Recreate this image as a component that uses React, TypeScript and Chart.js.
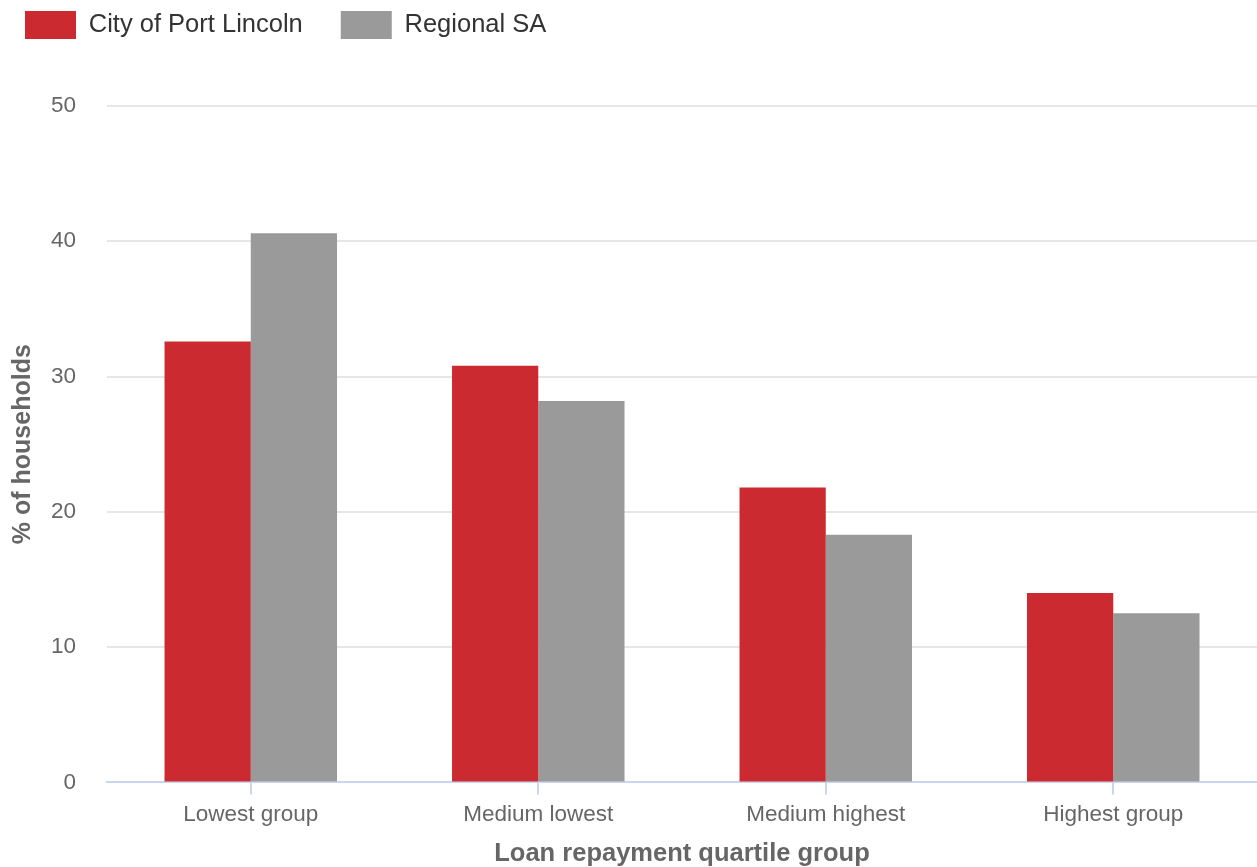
import React, { useEffect, useRef } from "react";
import { Chart, registerables } from "chart.js";

Chart.register(...registerables);

const categories = ["Lowest group", "Medium lowest", "Medium highest", "Highest group"];
const portLincoln = [32.6, 30.8, 21.8, 14.0];
const regionalSA = [40.6, 28.2, 18.3, 12.5];
const seriesNames = ["City of Port Lincoln", "Regional SA"];
const yTicks = [0, 10, 20, 30, 40, 50];

const FONT = "'Liberation Sans', Arial, sans-serif";
const LEGEND_PAD = 38;

const legendShift = {
  id: "legendShift",
  beforeDraw(chart: any) {
    const l = chart.legend;
    if (l) {
      l.top = 11 - LEGEND_PAD;
      l.left = 25 - LEGEND_PAD;
    }
  },
};

export default function App() {
  const ref = useRef<HTMLCanvasElement | null>(null);

  useEffect(() => {
    document.body.style.margin = "0";
    const ctx = ref.current!;
    const chart = new Chart(ctx, {
      type: "bar",
      data: {
        labels: categories,
        datasets: [
          {
            label: seriesNames[0],
            data: portLincoln,
            backgroundColor: "#cb2b30",
            categoryPercentage: 0.6,
            barPercentage: 1,
          },
          {
            label: seriesNames[1],
            data: regionalSA,
            backgroundColor: "#9a9a9a",
            categoryPercentage: 0.6,
            barPercentage: 1,
          },
        ],
      },
      options: {
        animation: false,
        responsive: false,
        maintainAspectRatio: false,
        layout: { padding: { left: 8, right: 0, top: 30, bottom: -2 } },
        plugins: {
          tooltip: { enabled: false },
          legend: {
            position: "top",
            align: "start",
            labels: {
              boxWidth: 51,
              boxHeight: 28,
              padding: LEGEND_PAD,
              color: "#333333",
              font: { family: FONT, size: 25.5 },
            },
          },
        },
        scales: {
          x: {
            grid: {
              display: true,
              drawOnChartArea: false,
              drawTicks: true,
              tickLength: 12,
              offset: false,
              color: "#ccd6eb",
              lineWidth: 2,
            },
            border: { display: true, color: "#ccd6eb", width: 2 },
            ticks: {
              color: "#666666",
              font: { family: FONT, size: 22.5 },
              padding: 7,
            },
            title: {
              display: true,
              text: "Loan repayment quartile group",
              color: "#666666",
              font: { family: FONT, size: 25.5, weight: "bold" },
              padding: { top: 3, bottom: 0 },
            },
          },
          y: {
            min: 0,
            max: 50,
            afterBuildTicks(axis: any) {
              axis.ticks = yTicks.map((v) => ({ value: v }));
            },
            grid: {
              color: "#e6e6e6",
              lineWidth: 2,
              drawTicks: false,
            },
            border: { display: false },
            ticks: {
              color: "#666666",
              font: { family: FONT, size: 22.5 },
              padding: 31,
            },
            title: {
              display: true,
              text: "% of households",
              color: "#666666",
              font: { family: FONT, size: 25, weight: "bold" },
              padding: { top: 0, bottom: -18 },
            },
          },
        },
      },
      plugins: [legendShift],
    } as any);
    return () => chart.destroy();
  }, []);

  return (
    <div style={{ width: 1257, height: 867, position: "relative" }}>
      <canvas ref={ref} width={1257} height={867} style={{ width: 1257, height: 867 }} />
    </div>
  );
}
